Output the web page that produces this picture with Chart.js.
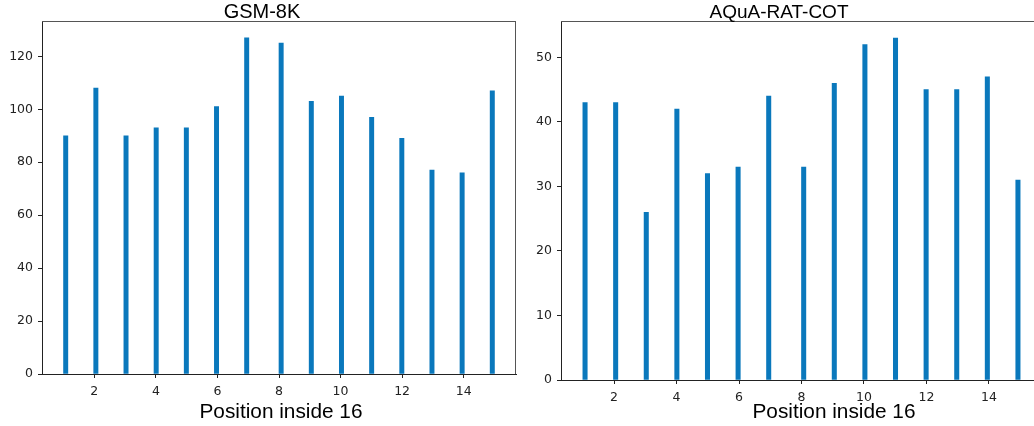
<!DOCTYPE html>
<html>
<head>
<meta charset="utf-8">
<script src="https://cdn.jsdelivr.net/npm/chart.js@4/dist/chart.umd.min.js"></script>
<style>
  html, body { margin:0; padding:0; width:1034px; height:426px; overflow:hidden; background:#fff; }
  canvas { position:absolute; top:0; }
  .lbl { position:absolute; width:300px; text-align:center; font-family:"Liberation Sans", Arial, sans-serif; color:#000; white-space:nowrap; }
</style>
</head>
<body>
<canvas id="c1" width="530" height="426" style="left:0px"></canvas>
<canvas id="c2" width="540" height="426" style="left:520px"></canvas>
<div class="lbl" style="left:112px; top:1px; font-size:20px; line-height:20px;">GSM-8K</div>
<div class="lbl" style="left:629px; top:2px; font-size:19px; line-height:19px;">AQuA-RAT-COT</div>
<div class="lbl" style="left:131px; top:400px; font-size:20.8px; line-height:21px;">Position inside 16</div>
<div class="lbl" style="left:684px; top:400px; font-size:20.8px; line-height:21px;">Position inside 16</div>
<script>
// ---- data ----
const positions = [1,2,3,4,5,6,7,8,9,10,11,12,13,14,15];
const gsmCounts  = [90,108,90,93,93,101,127,125,103,105,97,89,77,76,107];
const aquaCounts = [43,43,26,42,32,33,44,33,46,52,53,45,45,47,31];
const xTickValues = [2,4,6,8,10,12,14];
const gsmYTicks  = [0,20,40,60,80,100,120];
const aquaYTicks = [0,10,20,30,40,50];
const nBins = 100;

// histogram binning (100 equal bins over the range of positions)
const pMin = Math.min(...positions), pMax = Math.max(...positions);
const binW = (pMax - pMin) / nBins;
function binCenter(v) {
  let i = Math.floor((v - pMin) * nBins / (pMax - pMin) + 1e-9);
  if (i >= nBins) i = nBins - 1;
  return pMin + (i + 0.5) * binW;
}
const span = pMax - pMin;
const xMin = pMin - 0.05 * span, xMax = pMax + 0.05 * span;

const frame = {
  id: 'frame',
  afterDraw(chart) {
    const a = chart.chartArea, ctx = chart.ctx;
    ctx.save();
    ctx.strokeStyle = '#555';
    ctx.lineWidth = 1;
    ctx.beginPath();
    ctx.moveTo(a.left, a.top + 0.5);
    ctx.lineTo(a.right, a.top + 0.5);
    ctx.moveTo(a.right - 0.5, a.top);
    ctx.lineTo(a.right - 0.5, a.bottom);
    ctx.stroke();
    ctx.restore();
  }
};

function makeChart(id, counts, yTicks, yMax, yWidth, xHeight, padRight) {
  const data = positions.map((p, i) => ({ x: binCenter(p), y: counts[i] }));
  const tickFont = { family: 'DejaVu Sans', size: 12.5 };
  const chart = new Chart(document.getElementById(id), {
    type: 'bar',
    data: { datasets: [{ data, backgroundColor: '#0a78bc', borderWidth: 0, barThickness: 4 }] },
    options: {
      responsive: false,
      animation: false,
      devicePixelRatio: 1,
      layout: { padding: { top: 21, right: padRight, left: 0, bottom: 0 } },
      plugins: { legend: { display: false }, tooltip: { enabled: false }, title: { display: false } },
      scales: {
        x: {
          type: 'linear', min: xMin, max: xMax, offset: false,
          afterBuildTicks: s => { s.ticks = xTickValues.map(v => ({ value: v })); },
          afterFit: s => { s.height = xHeight; },
          grid: { offset: false, drawOnChartArea: false, drawTicks: true, tickLength: 4, tickColor: '#222' },
          border: { display: true, color: '#222', width: 1 },
          ticks: { font: tickFont, color: '#222', padding: 6, maxRotation: 0, autoSkip: false, callback: v => String(v) }
        },
        y: {
          min: 0, max: yMax,
          afterBuildTicks: s => { s.ticks = yTicks.map(v => ({ value: v })); },
          afterFit: s => { s.width = yWidth; },
          grid: { offset: false, drawOnChartArea: false, drawTicks: true, tickLength: 4, tickColor: '#222' },
          border: { display: true, color: '#222', width: 1 },
          ticks: { font: tickFont, color: '#222', padding: 5, callback: v => String(v) }
        }
      }
    },
    plugins: [frame]
  });
  const xs = chart.scales.x;
  chart.data.datasets[0].barThickness = xs.getPixelForValue(xMin + binW) - xs.getPixelForValue(xMin);
  chart.update('none');
  return chart;
}

makeChart('c1', gsmCounts, gsmYTicks, Math.max(...gsmCounts) * 1.05, 42, 52, 14);
makeChart('c2', aquaCounts, aquaYTicks, Math.max(...aquaCounts) * 1.05, 41, 46, 18);
</script>
</body>
</html>
